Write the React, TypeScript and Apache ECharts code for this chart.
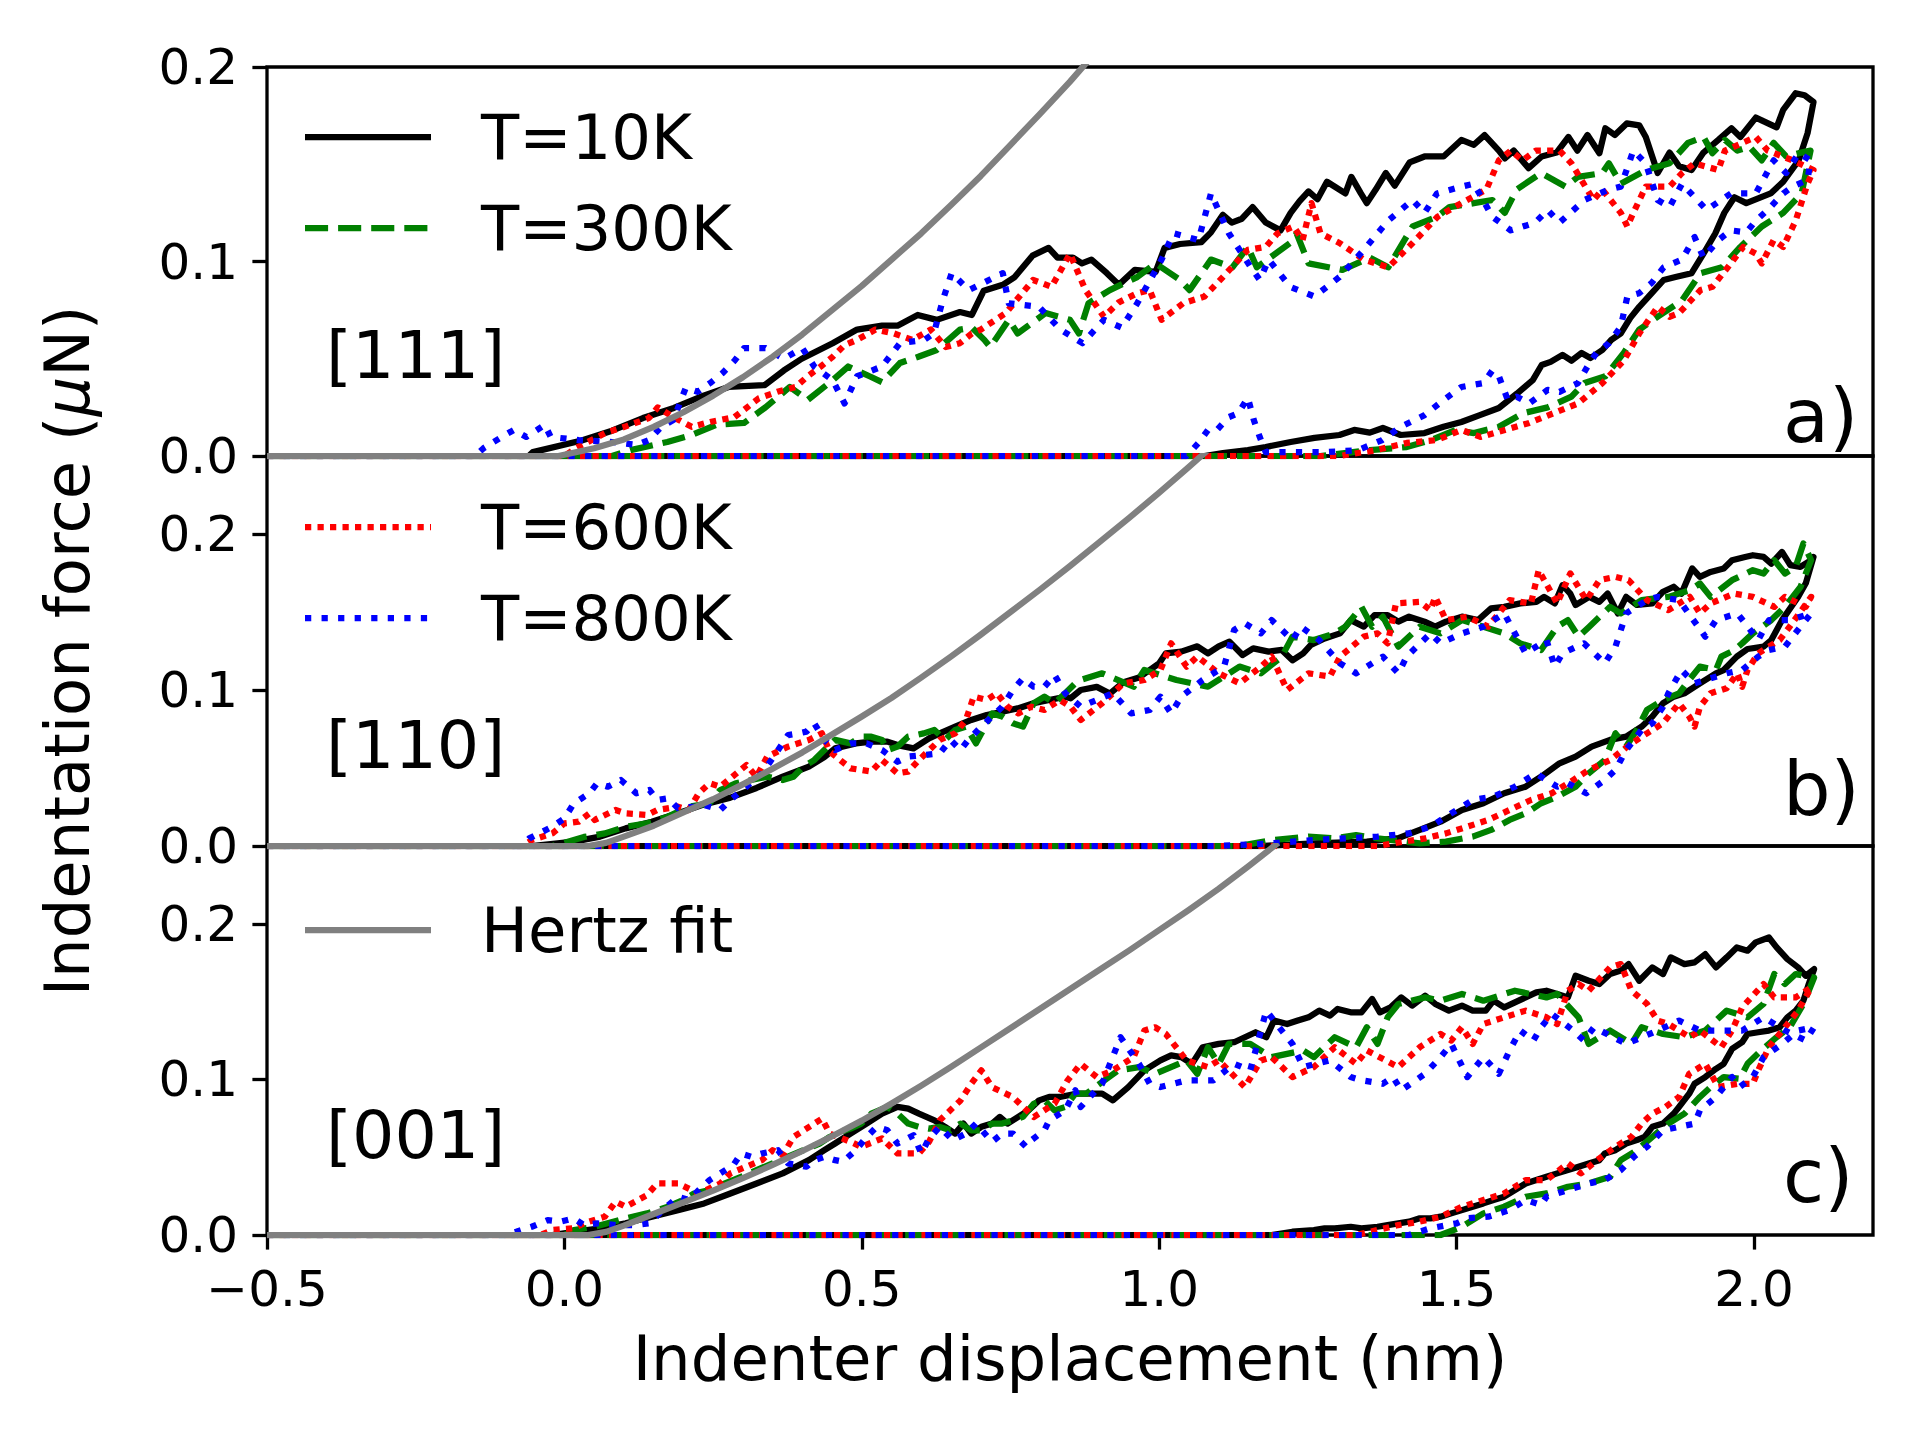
import React, { useEffect, useRef } from "react";
import * as echarts from "echarts";

// ---------- axes / labels ----------
const X_TICKS = [-0.5, 0, 0.5, 1, 1.5, 2];
const Y_TICKS = [0, 0.1, 0.2];
const PANEL_YMAX = [0.2, 0.25, 0.25];
const PANEL_NAMES = ["[111]", "[110]", "[001]"];
const PANEL_LETTERS = ["a)", "b)", "c)"];
const TEMPS = ["T=10K", "T=300K", "T=600K", "T=800K"];
const HERTZ_NAME = "Hertz fit";

// ---------- panel a) [111] ----------
const A_10K_LOAD = [[-0.5,0],[-0.06,0],[-0.053,0.002],[0.029,0.008],[0.08,0.013],[0.132,0.0195],[0.184,0.0247],[0.234,0.031],[0.276,0.0355],[0.337,0.0365],[0.369,0.044],[0.399,0.05],[0.451,0.058],[0.492,0.065],[0.534,0.067],[0.56,0.067],[0.594,0.0725],[0.626,0.07],[0.665,0.074],[0.685,0.0725],[0.705,0.085],[0.737,0.088],[0.757,0.092],[0.787,0.103],[0.814,0.107],[0.829,0.102],[0.855,0.102],[0.87,0.099],[0.886,0.101],[0.912,0.094],[0.932,0.088],[0.959,0.0957],[0.994,0.0947],[1.009,0.107],[1.035,0.109],[1.071,0.11],[1.087,0.115],[1.107,0.124],[1.122,0.12],[1.139,0.122],[1.157,0.128],[1.179,0.12],[1.204,0.116],[1.221,0.125],[1.236,0.131],[1.251,0.136],[1.266,0.132],[1.282,0.141],[1.313,0.135],[1.323,0.1435],[1.339,0.135],[1.349,0.13],[1.364,0.137],[1.381,0.1455],[1.396,0.139],[1.421,0.151],[1.446,0.154],[1.478,0.154],[1.508,0.1625],[1.529,0.16],[1.547,0.165],[1.571,0.157],[1.581,0.153],[1.596,0.157],[1.621,0.148],[1.643,0.154],[1.668,0.156],[1.688,0.164],[1.703,0.157],[1.72,0.165],[1.74,0.1557],[1.75,0.1685],[1.766,0.165],[1.786,0.171],[1.807,0.17],[1.818,0.164],[1.838,0.1455],[1.858,0.156],[1.874,0.149],[1.895,0.147],[1.915,0.156],[1.94,0.1625],[1.962,0.1685],[1.977,0.164],[2.003,0.174],[2.038,0.169],[2.049,0.178],[2.07,0.1865],[2.085,0.1855],[2.1,0.182]];
const A_10K_UNLOAD = [[2.09,0.166],[2.075,0.152],[2.049,0.141],[2.028,0.135],[2.007,0.1325],[1.987,0.13],[1.967,0.133],[1.95,0.125],[1.935,0.1145],[1.915,0.104],[1.895,0.094],[1.868,0.092],[1.848,0.0905],[1.828,0.0837],[1.807,0.0767],[1.792,0.071],[1.776,0.063],[1.76,0.0597],[1.745,0.0545],[1.725,0.0504],[1.71,0.053],[1.693,0.049],[1.678,0.052],[1.658,0.0484],[1.643,0.0468],[1.628,0.039],[1.601,0.032],[1.571,0.0247],[1.539,0.021],[1.508,0.0175],[1.478,0.015],[1.446,0.0118],[1.406,0.0108],[1.376,0.0144],[1.354,0.012],[1.328,0.0134],[1.303,0.0108],[1.261,0.0093],[1.221,0.0072],[1.179,0.0046],[1.149,0.003],[1.107,0.0015],[1.076,0],[-0.1,0]];
const A_300K_LOAD = [[-0.5,0],[0.08,0],[0.111,0.003],[0.173,0.0072],[0.214,0.0108],[0.255,0.016],[0.302,0.017],[0.338,0.025],[0.379,0.0355],[0.409,0.0288],[0.451,0.039],[0.477,0.046],[0.513,0.041],[0.534,0.038],[0.564,0.0478],[0.595,0.051],[0.626,0.0545],[0.665,0.065],[0.685,0.066],[0.706,0.0597],[0.716,0.056],[0.747,0.07],[0.762,0.063],[0.809,0.0735],[0.85,0.07],[0.865,0.063],[0.881,0.0785],[0.917,0.0853],[0.963,0.092],[0.994,0.099],[1.035,0.0905],[1.051,0.0853],[1.087,0.101],[1.123,0.097],[1.149,0.1075],[1.164,0.097],[1.22,0.1095],[1.231,0.1145],[1.251,0.099],[1.308,0.0957],[1.354,0.102],[1.385,0.097],[1.426,0.118],[1.467,0.123],[1.488,0.128],[1.529,0.13],[1.56,0.1316],[1.581,0.125],[1.601,0.137],[1.642,0.1455],[1.683,0.1385],[1.704,0.1435],[1.745,0.1455],[1.756,0.1505],[1.776,0.14],[1.818,0.147],[1.858,0.1505],[1.889,0.161],[1.915,0.164],[1.93,0.1557],[1.951,0.1625],[1.972,0.157],[1.992,0.159],[2.013,0.152],[2.033,0.161],[2.054,0.154],[2.075,0.1557],[2.095,0.157]];
const A_300K_UNLOAD = [[2.08,0.135],[2.049,0.125],[2.013,0.118],[1.977,0.1075],[1.946,0.097],[1.91,0.094],[1.879,0.08],[1.838,0.0716],[1.807,0.065],[1.781,0.053],[1.75,0.041],[1.715,0.0375],[1.693,0.0305],[1.653,0.025],[1.612,0.022],[1.571,0.015],[1.529,0.0118],[1.498,0.0134],[1.457,0.0082],[1.416,0.0046],[1.354,0.003],[1.271,0],[-0.1,0]];
const A_600K_LOAD = [[-0.5,0],[0.0,0],[0.019,0.004],[0.07,0.012],[0.101,0.015],[0.142,0.0195],[0.157,0.025],[0.183,0.02],[0.214,0.015],[0.245,0.0175],[0.286,0.02],[0.327,0.0297],[0.358,0.033],[0.389,0.0355],[0.409,0.041],[0.431,0.046],[0.451,0.051],[0.471,0.057],[0.492,0.0597],[0.523,0.065],[0.554,0.063],[0.585,0.0597],[0.616,0.065],[0.641,0.056],[0.665,0.058],[0.685,0.063],[0.7,0.065],[0.742,0.0735],[0.788,0.0905],[0.819,0.087],[0.85,0.104],[0.876,0.0853],[0.907,0.0716],[0.932,0.079],[0.963,0.0837],[0.984,0.0853],[1.004,0.07],[1.04,0.0785],[1.076,0.082],[1.107,0.092],[1.149,0.106],[1.179,0.1075],[1.199,0.1145],[1.226,0.118],[1.241,0.111],[1.256,0.13],[1.271,0.1145],[1.303,0.1095],[1.344,0.101],[1.385,0.097],[1.426,0.1095],[1.468,0.123],[1.508,0.13],[1.55,0.137],[1.571,0.152],[1.591,0.157],[1.611,0.152],[1.633,0.157],[1.673,0.157],[1.693,0.1505],[1.73,0.1316],[1.745,0.137],[1.776,0.125],[1.787,0.118],[1.797,0.125],[1.818,0.1385],[1.858,0.1385],[1.879,0.1455],[1.9,0.1505],[1.94,0.147],[1.951,0.157],[2.003,0.164],[2.023,0.157],[2.065,0.152],[2.1,0.147]];
const A_600K_UNLOAD = [[2.09,0.14],[2.07,0.121],[2.049,0.1075],[2.033,0.111],[2.013,0.099],[2.003,0.104],[1.982,0.1075],[1.961,0.099],[1.93,0.087],[1.91,0.0853],[1.874,0.0735],[1.858,0.0716],[1.838,0.0767],[1.807,0.063],[1.781,0.049],[1.745,0.0375],[1.704,0.027],[1.663,0.022],[1.622,0.017],[1.581,0.0134],[1.54,0.0098],[1.508,0.0134],[1.467,0.0082],[1.416,0.0067],[1.364,0.003],[1.303,0],[-0.1,0]];
const A_800K_LOAD = [[-0.5,0],[-0.15,0],[-0.136,0.004],[-0.1,0.0108],[-0.085,0.0134],[-0.064,0.0098],[-0.033,0.016],[-0.023,0.0098],[0.024,0.0082],[0.08,0.0072],[0.122,0.0057],[0.142,0.0082],[0.163,0.015],[0.183,0.0185],[0.204,0.035],[0.224,0.033],[0.245,0.0375],[0.266,0.0427],[0.286,0.049],[0.302,0.0555],[0.338,0.0555],[0.369,0.05],[0.4,0.0555],[0.42,0.046],[0.451,0.039],[0.471,0.027],[0.492,0.041],[0.534,0.046],[0.564,0.058],[0.605,0.0597],[0.621,0.063],[0.636,0.08],[0.651,0.094],[0.68,0.0853],[0.737,0.094],[0.747,0.0785],[0.798,0.0767],[0.834,0.065],[0.871,0.058],[0.907,0.07],[0.937,0.066],[0.963,0.0785],[1.004,0.101],[1.024,0.1145],[1.066,0.111],[1.087,0.135],[1.117,0.1145],[1.154,0.097],[1.169,0.0905],[1.184,0.101],[1.22,0.087],[1.261,0.082],[1.303,0.092],[1.344,0.106],[1.385,0.121],[1.426,0.1316],[1.446,0.125],[1.467,0.135],[1.508,0.1385],[1.529,0.14],[1.56,0.123],[1.591,0.116],[1.632,0.12],[1.653,0.1265],[1.673,0.12],[1.715,0.1316],[1.756,0.137],[1.776,0.1385],[1.797,0.157],[1.818,0.1505],[1.838,0.1316],[1.858,0.128],[1.879,0.14],[1.92,0.1265],[1.961,0.135],[2.003,0.135],[2.033,0.152],[2.054,0.1455],[2.075,0.1557],[2.095,0.152]];
const A_800K_UNLOAD = [[2.09,0.142],[2.065,0.1385],[2.049,0.135],[2.023,0.1265],[2.003,0.121],[1.987,0.115],[1.961,0.116],[1.94,0.111],[1.915,0.102],[1.9,0.1126],[1.879,0.101],[1.848,0.097],[1.828,0.089],[1.807,0.0837],[1.787,0.082],[1.776,0.0665],[1.756,0.058],[1.735,0.053],[1.72,0.046],[1.704,0.0375],[1.673,0.033],[1.653,0.034],[1.622,0.027],[1.601,0.0305],[1.586,0.0288],[1.571,0.041],[1.56,0.044],[1.545,0.0375],[1.508,0.0355],[1.478,0.0288],[1.446,0.021],[1.406,0.015],[1.375,0.0082],[1.334,0.003],[1.282,0.002],[1.179,0.002],[1.169,0.0098],[1.159,0.0185],[1.149,0.03],[1.133,0.022],[1.117,0.02],[1.097,0.0134],[1.082,0.0134],[1.066,0.0067],[1.046,0],[-0.1,0]];
const A_HERTZ = [[-0.5,0],[-0.01,0],[0.05,0.004],[0.1,0.0085],[0.15,0.015],[0.2,0.0225],[0.25,0.031],[0.3,0.0405],[0.35,0.051],[0.4,0.0625],[0.45,0.075],[0.5,0.0875],[0.55,0.101],[0.6,0.1145],[0.65,0.129],[0.7,0.144],[0.75,0.16],[0.8,0.176],[0.85,0.1925],[0.9,0.21],[0.95,0.227]];

// ---------- panel b) [110] ----------
const B_10K_LOAD = [[-0.5,0],[-0.055,0],[0.016,0.0028],[0.06,0.006],[0.103,0.0113],[0.147,0.0156],[0.191,0.021],[0.235,0.0267],[0.279,0.031],[0.323,0.0372],[0.367,0.0444],[0.411,0.0509],[0.437,0.057],[0.455,0.0626],[0.49,0.0658],[0.516,0.0669],[0.543,0.0669],[0.56,0.0647],[0.587,0.0626],[0.613,0.069],[0.631,0.0722],[0.657,0.0765],[0.684,0.0808],[0.71,0.084],[0.736,0.0861],[0.762,0.0882],[0.789,0.0915],[0.815,0.0936],[0.842,0.0957],[0.851,0.0947],[0.868,0.1],[0.895,0.102],[0.917,0.0977],[0.94,0.105],[0.966,0.108],[0.984,0.1128],[1.0,0.1171],[1.011,0.1235],[1.037,0.1246],[1.064,0.128],[1.082,0.1235],[1.1,0.128],[1.118,0.131],[1.14,0.1224],[1.158,0.1267],[1.184,0.1246],[1.206,0.1257],[1.224,0.119],[1.242,0.1235],[1.255,0.1289],[1.278,0.133],[1.304,0.1363],[1.322,0.1448],[1.344,0.1406],[1.362,0.148],[1.384,0.148],[1.402,0.1438],[1.42,0.147],[1.446,0.1438],[1.464,0.1406],[1.482,0.1438],[1.509,0.147],[1.536,0.1448],[1.558,0.1523],[1.58,0.1533],[1.607,0.1555],[1.634,0.1565],[1.647,0.1597],[1.665,0.1555],[1.678,0.1672],[1.691,0.1618],[1.7,0.1545],[1.723,0.1597],[1.74,0.1565],[1.754,0.1618],[1.771,0.1491],[1.785,0.1597],[1.803,0.1545],[1.829,0.1555],[1.847,0.163],[1.865,0.1662],[1.878,0.1618],[1.896,0.1779],[1.909,0.1725],[1.927,0.1757],[1.949,0.1779],[1.963,0.1832],[1.985,0.1853],[1.998,0.1864],[2.016,0.1853],[2.029,0.181],[2.047,0.1885],[2.061,0.18],[2.078,0.1789],[2.096,0.1832],[2.1,0.1853]];
const B_10K_UNLOAD = [[2.087,0.1684],[2.074,0.1596],[2.047,0.1448],[2.029,0.132],[2.016,0.1278],[1.989,0.1263],[1.971,0.1214],[1.949,0.1128],[1.936,0.1107],[1.909,0.1043],[1.883,0.0979],[1.865,0.0957],[1.847,0.0915],[1.829,0.083],[1.811,0.0765],[1.785,0.0701],[1.758,0.068],[1.727,0.0637],[1.7,0.0573],[1.673,0.053],[1.642,0.0444],[1.616,0.038],[1.58,0.0338],[1.545,0.0274],[1.509,0.0231],[1.473,0.0156],[1.438,0.0103],[1.402,0.005],[1.349,0.0028],[1.26,0.0017],[1.171,0],[-0.1,0]];
const B_300K_LOAD = [[-0.5,0],[-0.02,0],[0.0,0.002],[0.033,0.0058],[0.068,0.0081],[0.103,0.0124],[0.139,0.0145],[0.174,0.0188],[0.209,0.0252],[0.244,0.0274],[0.262,0.0359],[0.288,0.0402],[0.314,0.0423],[0.341,0.0444],[0.367,0.0423],[0.385,0.0444],[0.402,0.0509],[0.42,0.0551],[0.437,0.0615],[0.455,0.068],[0.481,0.0658],[0.499,0.0701],[0.516,0.0701],[0.534,0.068],[0.543,0.0615],[0.56,0.0637],[0.578,0.0701],[0.604,0.0722],[0.622,0.0744],[0.64,0.068],[0.657,0.0744],[0.675,0.0765],[0.692,0.0658],[0.701,0.0722],[0.719,0.085],[0.736,0.083],[0.754,0.0787],[0.771,0.0765],[0.789,0.0915],[0.807,0.0957],[0.824,0.0915],[0.842,0.0979],[0.859,0.1043],[0.868,0.1064],[0.904,0.1107],[0.957,0.1021],[0.975,0.1128],[1.029,0.1064],[1.082,0.1021],[1.135,0.115],[1.171,0.1107],[1.206,0.1214],[1.224,0.1342],[1.26,0.132],[1.295,0.1363],[1.313,0.1406],[1.34,0.1533],[1.358,0.1406],[1.376,0.147],[1.402,0.1278],[1.438,0.1406],[1.473,0.1363],[1.509,0.1448],[1.545,0.1406],[1.58,0.1363],[1.607,0.1299],[1.642,0.1256],[1.669,0.1406],[1.687,0.1448],[1.705,0.1342],[1.723,0.1406],[1.758,0.1533],[1.776,0.1491],[1.811,0.1576],[1.856,0.1597],[1.892,0.164],[1.909,0.1683],[1.927,0.1597],[1.963,0.1704],[1.998,0.1768],[2.016,0.1747],[2.034,0.1832],[2.052,0.1747],[2.07,0.1789],[2.083,0.1939],[2.096,0.1832]];
const B_300K_UNLOAD = [[2.078,0.166],[2.052,0.1533],[2.029,0.1448],[1.998,0.1363],[1.98,0.1299],[1.967,0.1256],[1.945,0.1214],[1.936,0.1128],[1.909,0.115],[1.891,0.1064],[1.874,0.0979],[1.847,0.0936],[1.82,0.0872],[1.803,0.0744],[1.785,0.0637],[1.767,0.0722],[1.749,0.0551],[1.722,0.0466],[1.7,0.038],[1.669,0.0316],[1.642,0.0274],[1.616,0.0209],[1.589,0.0167],[1.558,0.0103],[1.527,0.006],[1.482,0.0028],[1.438,0.0017],[1.367,0.0049],[1.331,0.007],[1.295,0.0049],[1.251,0.006],[1.189,0.0038],[1.135,0],[-0.1,0]];
const B_600K_LOAD = [[-0.5,0],[-0.07,0],[-0.055,0.0038],[-0.02,0.0081],[0.0,0.0145],[0.024,0.0156],[0.042,0.0209],[0.051,0.0167],[0.086,0.0231],[0.103,0.0209],[0.139,0.0199],[0.156,0.0231],[0.191,0.0252],[0.209,0.0231],[0.226,0.0338],[0.244,0.0402],[0.262,0.038],[0.306,0.0519],[0.323,0.0444],[0.341,0.0573],[0.376,0.0637],[0.411,0.068],[0.433,0.0722],[0.446,0.0605],[0.481,0.0498],[0.516,0.0477],[0.534,0.0551],[0.56,0.0466],[0.578,0.0477],[0.596,0.0551],[0.631,0.068],[0.657,0.0722],[0.675,0.0808],[0.688,0.0957],[0.71,0.0936],[0.727,0.0979],[0.745,0.0893],[0.763,0.085],[0.785,0.0893],[0.807,0.0872],[0.833,0.0936],[0.851,0.0893],[0.868,0.0808],[0.904,0.0915],[0.94,0.1043],[0.975,0.1064],[1.002,0.1128],[1.02,0.1299],[1.046,0.115],[1.064,0.1214],[1.1,0.1107],[1.135,0.1043],[1.171,0.115],[1.189,0.1214],[1.215,0.1],[1.251,0.1107],[1.287,0.1086],[1.304,0.1214],[1.344,0.1342],[1.367,0.1363],[1.384,0.1299],[1.398,0.1555],[1.438,0.1565],[1.456,0.1512],[1.464,0.1597],[1.482,0.1448],[1.518,0.147],[1.553,0.1406],[1.589,0.1576],[1.625,0.1555],[1.638,0.1768],[1.669,0.1555],[1.691,0.1747],[1.718,0.1576],[1.74,0.1704],[1.767,0.1725],[1.789,0.1704],[1.82,0.1576],[1.856,0.1512],[1.892,0.1597],[1.909,0.1491],[1.927,0.1555],[1.967,0.1618],[1.998,0.1597],[2.034,0.1533],[2.052,0.1597],[2.087,0.1533],[2.096,0.1597]];
const B_600K_UNLOAD = [[2.06,0.1406],[2.043,0.132],[2.025,0.1278],[2.007,0.1235],[1.989,0.1128],[1.98,0.1021],[1.972,0.1107],[1.954,0.1011],[1.927,0.0979],[1.909,0.0893],[1.9,0.0765],[1.891,0.083],[1.874,0.0915],[1.847,0.0787],[1.82,0.0722],[1.794,0.0658],[1.758,0.0551],[1.722,0.0487],[1.696,0.0423],[1.66,0.0338],[1.625,0.0295],[1.589,0.0231],[1.553,0.0167],[1.518,0.0124],[1.482,0.0081],[1.447,0.0049],[1.411,0.0028],[1.367,0],[-0.1,0]];
const B_800K_LOAD = [[-0.5,0],[-0.07,0],[-0.059,0.0049],[-0.02,0.0124],[0.0,0.0177],[0.016,0.0274],[0.029,0.0306],[0.042,0.0338],[0.055,0.0402],[0.073,0.038],[0.095,0.0423],[0.108,0.038],[0.121,0.0338],[0.143,0.0359],[0.156,0.0295],[0.174,0.0306],[0.191,0.0242],[0.218,0.0252],[0.235,0.0263],[0.262,0.0231],[0.279,0.0295],[0.306,0.038],[0.332,0.0466],[0.35,0.0562],[0.376,0.0711],[0.394,0.0722],[0.407,0.0733],[0.42,0.0787],[0.437,0.068],[0.455,0.0615],[0.481,0.0658],[0.508,0.0658],[0.534,0.0615],[0.56,0.054],[0.578,0.0573],[0.604,0.0583],[0.631,0.0594],[0.649,0.068],[0.666,0.0615],[0.679,0.068],[0.701,0.0765],[0.719,0.083],[0.736,0.0893],[0.754,0.1],[0.771,0.1075],[0.789,0.1021],[0.807,0.1021],[0.824,0.1096],[0.842,0.0979],[0.868,0.0893],[0.922,0.0979],[0.953,0.085],[0.984,0.0872],[1.002,0.0957],[1.02,0.085],[1.037,0.0957],[1.073,0.1064],[1.109,0.115],[1.126,0.1385],[1.144,0.1427],[1.171,0.1363],[1.189,0.1448],[1.224,0.132],[1.238,0.1406],[1.269,0.132],[1.304,0.1171],[1.331,0.1107],[1.376,0.1214],[1.402,0.1107],[1.416,0.1214],[1.456,0.1363],[1.473,0.1299],[1.509,0.1363],[1.545,0.1406],[1.58,0.1491],[1.598,0.1363],[1.616,0.1235],[1.651,0.132],[1.665,0.115],[1.678,0.1235],[1.714,0.1299],[1.749,0.1171],[1.767,0.1278],[1.785,0.1491],[1.82,0.1576],[1.838,0.1597],[1.874,0.1576],[1.918,0.1342],[1.936,0.1448],[1.972,0.1491],[2.007,0.132],[2.025,0.1448],[2.06,0.1448],[2.096,0.1491]];
const B_800K_UNLOAD = [[2.078,0.1406],[2.052,0.1278],[2.025,0.1256],[2.007,0.1214],[1.98,0.1128],[1.954,0.1107],[1.918,0.1064],[1.9,0.1043],[1.878,0.1128],[1.856,0.0979],[1.847,0.0893],[1.829,0.0787],[1.811,0.0744],[1.785,0.0615],[1.767,0.0487],[1.749,0.0423],[1.718,0.0338],[1.687,0.0402],[1.669,0.038],[1.633,0.0466],[1.598,0.038],[1.562,0.0316],[1.527,0.0295],[1.491,0.0209],[1.456,0.0124],[1.42,0.0081],[1.367,0.006],[1.313,0.0049],[1.26,0.0038],[1.189,0.0017],[1.1,0],[-0.1,0]];
const B_HERTZ = [[-0.5,0],[0.04,0],[0.07,0.002],[0.1,0.006],[0.15,0.013],[0.2,0.0215],[0.25,0.03],[0.3,0.0395],[0.35,0.0495],[0.4,0.06],[0.45,0.0715],[0.5,0.083],[0.55,0.095],[0.6,0.108],[0.65,0.1215],[0.7,0.1355],[0.75,0.15],[0.8,0.1645],[0.85,0.1795],[0.9,0.195],[0.95,0.2105],[1.0,0.2265],[1.05,0.243],[1.1,0.26]];

// ---------- panel c) [001] ----------
const C_10K_LOAD = [[-0.5,0],[-0.02,0],[0.016,0.0021],[0.06,0.0043],[0.103,0.0075],[0.147,0.0118],[0.191,0.016],[0.235,0.0203],[0.279,0.0267],[0.323,0.0331],[0.367,0.0396],[0.411,0.0481],[0.437,0.0545],[0.455,0.0588],[0.481,0.0652],[0.508,0.0716],[0.534,0.078],[0.56,0.0823],[0.578,0.0812],[0.596,0.078],[0.622,0.0737],[0.64,0.0695],[0.657,0.0652],[0.671,0.0716],[0.684,0.0652],[0.701,0.0695],[0.719,0.0716],[0.732,0.0759],[0.745,0.0716],[0.763,0.0759],[0.78,0.0801],[0.798,0.0865],[0.815,0.0887],[0.833,0.0887],[0.86,0.0908],[0.886,0.0908],[0.904,0.0908],[0.922,0.0865],[0.948,0.095],[0.975,0.1058],[1.002,0.1122],[1.02,0.1154],[1.037,0.1143],[1.055,0.11],[1.073,0.1207],[1.1,0.1228],[1.126,0.1239],[1.144,0.1271],[1.162,0.1303],[1.18,0.1271],[1.193,0.1378],[1.215,0.1356],[1.233,0.1378],[1.251,0.1399],[1.269,0.1442],[1.287,0.141],[1.3,0.1453],[1.322,0.1431],[1.34,0.1431],[1.358,0.1517],[1.371,0.1431],[1.389,0.1463],[1.407,0.1527],[1.425,0.1474],[1.447,0.1538],[1.464,0.1485],[1.487,0.1442],[1.509,0.1474],[1.527,0.1442],[1.549,0.1442],[1.562,0.1506],[1.58,0.1463],[1.598,0.1495],[1.616,0.1527],[1.634,0.1559],[1.651,0.157],[1.669,0.1549],[1.687,0.1527],[1.7,0.1666],[1.722,0.1634],[1.74,0.1613],[1.758,0.1677],[1.776,0.1699],[1.789,0.1741],[1.807,0.1634],[1.829,0.172],[1.847,0.1677],[1.86,0.1784],[1.883,0.1741],[1.9,0.1752],[1.918,0.1805],[1.936,0.172],[1.954,0.1784],[1.971,0.1848],[1.989,0.1827],[2.003,0.1881],[2.025,0.1912],[2.038,0.1848],[2.056,0.1773],[2.074,0.172],[2.087,0.1666],[2.101,0.1709]];
const C_10K_UNLOAD = [[2.092,0.1613],[2.083,0.1506],[2.07,0.1442],[2.056,0.1399],[2.043,0.1335],[2.025,0.1314],[2.007,0.1303],[1.989,0.1292],[1.98,0.1239],[1.963,0.1196],[1.949,0.11],[1.936,0.1068],[1.918,0.1015],[1.9,0.0972],[1.891,0.0908],[1.874,0.0823],[1.865,0.078],[1.847,0.0716],[1.829,0.0695],[1.816,0.0631],[1.803,0.061],[1.785,0.0588],[1.767,0.0545],[1.749,0.0524],[1.74,0.0481],[1.722,0.046],[1.705,0.0439],[1.687,0.0417],[1.669,0.0396],[1.651,0.0374],[1.634,0.0353],[1.616,0.0331],[1.598,0.0289],[1.58,0.0246],[1.562,0.0225],[1.545,0.0203],[1.527,0.0182],[1.509,0.016],[1.491,0.0139],[1.473,0.0118],[1.456,0.0107],[1.438,0.0107],[1.42,0.0086],[1.402,0.0075],[1.384,0.0064],[1.367,0.0053],[1.34,0.0043],[1.322,0.0053],[1.295,0.0043],[1.278,0.0043],[1.26,0.0032],[1.224,0.0021],[1.189,0],[-0.1,0]];
const C_300K_LOAD = [[-0.5,0],[0.0,0],[0.016,0.0032],[0.051,0.0053],[0.103,0.0107],[0.139,0.0139],[0.174,0.0182],[0.2,0.0225],[0.218,0.0267],[0.244,0.0289],[0.27,0.0331],[0.297,0.0374],[0.323,0.0417],[0.35,0.046],[0.376,0.0503],[0.402,0.0545],[0.429,0.0588],[0.446,0.063],[0.464,0.0663],[0.481,0.0684],[0.499,0.0716],[0.516,0.078],[0.543,0.0823],[0.56,0.078],[0.578,0.0716],[0.596,0.0695],[0.613,0.0684],[0.631,0.0695],[0.649,0.0673],[0.666,0.0716],[0.684,0.0673],[0.701,0.0673],[0.719,0.0716],[0.736,0.0716],[0.754,0.0737],[0.771,0.0759],[0.789,0.0844],[0.807,0.0865],[0.824,0.0801],[0.842,0.0823],[0.859,0.0908],[0.877,0.0908],[0.931,0.1058],[0.966,0.1079],[0.993,0.1036],[1.046,0.1122],[1.064,0.1036],[1.082,0.1207],[1.1,0.11],[1.117,0.1228],[1.153,0.1228],[1.189,0.1143],[1.242,0.1186],[1.26,0.1143],[1.295,0.1271],[1.331,0.1207],[1.349,0.1335],[1.367,0.1228],[1.384,0.1399],[1.402,0.1485],[1.447,0.1527],[1.473,0.1506],[1.509,0.1549],[1.545,0.1506],[1.598,0.157],[1.651,0.1527],[1.669,0.1549],[1.705,0.1399],[1.722,0.1228],[1.758,0.1314],[1.794,0.1228],[1.811,0.1335],[1.847,0.1292],[1.883,0.1271],[1.918,0.1314],[1.936,0.1378],[1.954,0.1442],[1.989,0.1399],[2.016,0.1485],[2.034,0.1677],[2.052,0.1613],[2.07,0.1677],[2.101,0.1655]];
const C_300K_UNLOAD = [[2.083,0.1485],[2.06,0.1335],[2.038,0.1271],[2.012,0.1186],[1.989,0.11],[1.976,0.1004],[1.949,0.1015],[1.927,0.0951],[1.909,0.0887],[1.883,0.078],[1.856,0.0716],[1.829,0.0631],[1.803,0.0545],[1.776,0.0481],[1.758,0.0374],[1.722,0.0331],[1.687,0.031],[1.651,0.0267],[1.616,0.0246],[1.58,0.0182],[1.545,0.0139],[1.509,0.0053],[1.473,0],[-0.1,0]];
const C_600K_LOAD = [[-0.5,0],[-0.04,0],[-0.02,0.0032],[0.016,0.0043],[0.033,0.0075],[0.068,0.0118],[0.086,0.0214],[0.103,0.0182],[0.139,0.0257],[0.156,0.0331],[0.191,0.0331],[0.226,0.0267],[0.262,0.0331],[0.279,0.0396],[0.332,0.0481],[0.35,0.0545],[0.367,0.0513],[0.385,0.063],[0.42,0.0716],[0.433,0.0748],[0.446,0.0652],[0.481,0.0599],[0.499,0.0567],[0.534,0.062],[0.56,0.0524],[0.596,0.0524],[0.613,0.0599],[0.631,0.0737],[0.666,0.0865],[0.684,0.0972],[0.701,0.1058],[0.719,0.095],[0.754,0.0887],[0.789,0.0758],[0.824,0.0844],[0.846,0.0994],[0.868,0.11],[0.895,0.1015],[0.922,0.1058],[0.957,0.1143],[0.975,0.1314],[0.993,0.1335],[1.011,0.1292],[1.046,0.1122],[1.082,0.1079],[1.1,0.1122],[1.144,0.0951],[1.171,0.1122],[1.189,0.1143],[1.224,0.1015],[1.26,0.1079],[1.295,0.1207],[1.331,0.11],[1.349,0.1186],[1.402,0.1079],[1.438,0.1207],[1.473,0.1292],[1.491,0.125],[1.509,0.1335],[1.527,0.1228],[1.545,0.1356],[1.58,0.1399],[1.616,0.1442],[1.651,0.1399],[1.669,0.1356],[1.687,0.157],[1.705,0.1613],[1.722,0.157],[1.758,0.172],[1.776,0.1741],[1.794,0.157],[1.82,0.1485],[1.838,0.1378],[1.856,0.1356],[1.892,0.1271],[1.909,0.1314],[1.945,0.1207],[1.963,0.1314],[1.98,0.1463],[2.016,0.1613],[2.034,0.1527],[2.07,0.1527],[2.096,0.1591]];
const C_600K_UNLOAD = [[2.074,0.1442],[2.052,0.1335],[2.025,0.1207],[2.007,0.1058],[1.998,0.0972],[1.972,0.0972],[1.94,0.0951],[1.918,0.11],[1.891,0.1036],[1.874,0.0887],[1.851,0.0823],[1.829,0.078],[1.811,0.0716],[1.794,0.0631],[1.767,0.0567],[1.736,0.0481],[1.709,0.0396],[1.687,0.046],[1.651,0.0353],[1.616,0.0353],[1.58,0.0267],[1.545,0.0225],[1.509,0.0182],[1.473,0.0118],[1.438,0.0086],[1.402,0.0064],[1.367,0.0032],[1.331,0],[-0.1,0]];
const C_800K_LOAD = [[-0.5,0],[-0.1,0],[-0.081,0.0021],[-0.055,0.0053],[-0.028,0.0096],[-0.006,0.0086],[0.016,0.0107],[0.033,0.0064],[0.055,0.0075],[0.086,0.0064],[0.121,0.0064],[0.143,0.0075],[0.165,0.016],[0.191,0.0246],[0.209,0.0225],[0.226,0.0289],[0.244,0.0353],[0.262,0.0396],[0.284,0.0449],[0.297,0.0524],[0.314,0.0503],[0.332,0.0524],[0.359,0.0545],[0.376,0.046],[0.407,0.0439],[0.42,0.0481],[0.437,0.0503],[0.455,0.0481],[0.468,0.0471],[0.49,0.0545],[0.508,0.063],[0.525,0.0695],[0.543,0.0673],[0.56,0.0588],[0.587,0.0641],[0.6,0.0524],[0.613,0.062],[0.631,0.0695],[0.653,0.0609],[0.675,0.0652],[0.692,0.0716],[0.719,0.0599],[0.736,0.0652],[0.754,0.0652],[0.776,0.0567],[0.785,0.0609],[0.807,0.0673],[0.815,0.0737],[0.842,0.0801],[0.859,0.093],[0.868,0.0823],[0.904,0.0972],[0.935,0.1271],[0.966,0.11],[0.984,0.0972],[1.002,0.0951],[1.046,0.0994],[1.091,0.0994],[1.126,0.11],[1.153,0.1058],[1.18,0.1442],[1.206,0.1314],[1.224,0.1228],[1.242,0.1079],[1.287,0.1122],[1.322,0.1015],[1.34,0.0994],[1.376,0.0972],[1.393,0.1015],[1.407,0.093],[1.447,0.1036],[1.473,0.1143],[1.491,0.1228],[1.518,0.1015],[1.545,0.1143],[1.571,0.1036],[1.589,0.1186],[1.607,0.1314],[1.629,0.125],[1.642,0.1335],[1.66,0.142],[1.696,0.1314],[1.714,0.125],[1.731,0.1335],[1.785,0.1228],[1.838,0.1314],[1.874,0.1378],[1.909,0.1314],[1.945,0.1314],[1.98,0.1314],[2.016,0.1399],[2.052,0.1314],[2.087,0.125],[2.101,0.1335]];
const C_800K_UNLOAD = [[2.074,0.1314],[2.047,0.1228],[2.016,0.1143],[1.998,0.1015],[1.976,0.0951],[1.963,0.1015],[1.936,0.0887],[1.909,0.0801],[1.9,0.0716],[1.874,0.0695],[1.847,0.0673],[1.82,0.0567],[1.798,0.0503],[1.776,0.0417],[1.749,0.0353],[1.722,0.0331],[1.687,0.0289],[1.651,0.0246],[1.642,0.0193],[1.616,0.0225],[1.589,0.016],[1.553,0.0118],[1.518,0.0107],[1.5,0.0075],[1.456,0.0043],[1.42,0],[-0.1,0]];
const C_HERTZ = [[-0.5,0],[0.04,0],[0.07,0.002],[0.1,0.006],[0.15,0.0135],[0.2,0.021],[0.25,0.0285],[0.3,0.0365],[0.35,0.045],[0.4,0.054],[0.45,0.0635],[0.5,0.0735],[0.55,0.0845],[0.6,0.096],[0.65,0.108],[0.7,0.1205],[0.75,0.133],[0.8,0.1455],[0.85,0.158],[0.9,0.1705],[0.95,0.183],[1.0,0.196],[1.05,0.209],[1.1,0.2225],[1.15,0.237],[1.2,0.252]];

// ---------- styles ----------
const FONT = "DejaVu Sans";
const LW = 6.25;
const STYLES = [
  { color: "#000000", dash: "solid" as any },
  { color: "#008000", dash: [23.1, 10] },
  { color: "#ff0000", dash: [6.25, 6.25] },
  { color: "#0000ff", dash: [6.25, 10.3] },
];
const HERTZ_COLOR = "#808080";

const PANELS = [
  { curves: [[A_10K_LOAD, A_10K_UNLOAD], [A_300K_LOAD, A_300K_UNLOAD], [A_600K_LOAD, A_600K_UNLOAD], [A_800K_LOAD, A_800K_UNLOAD]], hertz: A_HERTZ },
  { curves: [[B_10K_LOAD, B_10K_UNLOAD], [B_300K_LOAD, B_300K_UNLOAD], [B_600K_LOAD, B_600K_UNLOAD], [B_800K_LOAD, B_800K_UNLOAD]], hertz: B_HERTZ },
  { curves: [[C_10K_LOAD, C_10K_UNLOAD], [C_300K_LOAD, C_300K_UNLOAD], [C_600K_LOAD, C_600K_UNLOAD], [C_800K_LOAD, C_800K_UNLOAD]], hertz: C_HERTZ },
];

// layout (px)
const PLOT_LEFT = 267;
const PLOT_RIGHT = 1873;
const PANEL_TOPS = [67, 456, 846];
const PANEL_BOTTOMS = [456, 846, 1235];

const fmtX = (v: number) => (v < 0 ? "\u2212" + Math.abs(v).toFixed(1) : v.toFixed(1));
const fmtY = (v: number) => v.toFixed(1);

function buildOption() {
  const grid = PANEL_TOPS.map((t, i) => ({
    left: PLOT_LEFT,
    width: PLOT_RIGHT - PLOT_LEFT,
    top: t,
    height: PANEL_BOTTOMS[i] - t,
    show: true,
    borderColor: "#000",
    borderWidth: 3.3,
    backgroundColor: "transparent",
    containLabel: false,
  }));

  const xAxis = PANEL_TOPS.map((_, i) => ({
    type: "value",
    gridIndex: i,
    position: "bottom",
    min: -0.5,
    max: 2.2,
    interval: 0.5,
    axisLine: { show: false, onZero: false },
    splitLine: { show: false },
    axisTick: {
      show: i === 2,
      length: 14.6,
      inside: false,
      customValues: X_TICKS,
      lineStyle: { color: "#000", width: 3.3 },
    },
    axisLabel: {
      show: i === 2,
      customValues: X_TICKS,
      formatter: fmtX,
      fontSize: 50,
      fontFamily: FONT,
      color: "#000",
      margin: 29,
    },
  }));

  const yAxis = PANEL_TOPS.map((_, i) => ({
    type: "value",
    gridIndex: i,
    position: "left",
    min: 0,
    max: PANEL_YMAX[i],
    interval: 0.1,
    axisLine: { show: false, onZero: false },
    splitLine: { show: false },
    axisTick: {
      show: true,
      length: 14.6,
      inside: false,
      customValues: Y_TICKS,
      lineStyle: { color: "#000", width: 3.3 },
    },
    axisLabel: {
      customValues: Y_TICKS,
      formatter: fmtY,
      fontSize: 50,
      fontFamily: FONT,
      color: "#000",
      margin: 29,
    },
  }));

  const series: any[] = [];
  PANELS.forEach((p, i) => {
    p.curves.forEach((c, k) => {
      series.push({
        type: "line",
        name: TEMPS[k],
        xAxisIndex: i,
        yAxisIndex: i,
        data: (c[0] as number[][]).concat(c[1] as number[][]),
        showSymbol: false,
        symbol: "none",
        silent: true,
        clip: true,
        lineStyle: { color: STYLES[k].color, width: LW, type: STYLES[k].dash, cap: "butt", join: "round" },
      });
    });
    series.push({
      type: "line",
      name: HERTZ_NAME,
      xAxisIndex: i,
      yAxisIndex: i,
      data: p.hertz,
      showSymbol: false,
      symbol: "none",
      silent: true,
      clip: true,
      lineStyle: { color: HERTZ_COLOR, width: LW, type: "solid", cap: "butt", join: "round" },
    });
  });

  const graphic: any[] = [];
  const legendRows = [
    [{ y: 137, k: 0 }, { y: 228, k: 1 }],
    [{ y: 527, k: 2 }, { y: 618, k: 3 }],
    [{ y: 930, k: -1 }],
  ];
  legendRows.forEach((rows) =>
    rows.forEach((r) => {
      const color = r.k >= 0 ? STYLES[r.k].color : HERTZ_COLOR;
      const dash = r.k >= 0 && Array.isArray(STYLES[r.k].dash) ? STYLES[r.k].dash : null;
      graphic.push({
        type: "line",
        silent: true,
        shape: { x1: 305, y1: r.y, x2: 431, y2: r.y },
        style: { stroke: color, lineWidth: LW, lineDash: dash, lineCap: "butt" },
      });
      graphic.push({
        type: "text",
        silent: true,
        x: 481,
        y: r.y,
        style: {
          text: r.k >= 0 ? TEMPS[r.k] : HERTZ_NAME,
          fontSize: 62.5,
          fontFamily: FONT,
          fill: "#000",
          align: "left",
          verticalAlign: "middle",
        },
      });
    })
  );

  const nameY = [355, 745, 1135];
  const letterY = [416, 789, 1176];
  PANEL_NAMES.forEach((n, i) => {
    graphic.push({
      type: "text",
      silent: true,
      x: 326,
      y: nameY[i],
      style: { text: n, fontSize: 66.7, fontFamily: FONT, fill: "#000", align: "left", verticalAlign: "middle" },
    });
    graphic.push({
      type: "text",
      silent: true,
      x: 1783,
      y: letterY[i],
      style: { text: PANEL_LETTERS[i], fontSize: 75, fontFamily: FONT, fill: "#000", align: "left", verticalAlign: "middle" },
    });
  });

  graphic.push({
    type: "text",
    silent: true,
    x: (PLOT_LEFT + PLOT_RIGHT) / 2,
    y: 1358,
    style: {
      text: "Indenter displacement (nm)",
      fontSize: 62.5,
      fontFamily: FONT,
      fill: "#000",
      align: "center",
      verticalAlign: "middle",
    },
  });
  graphic.push({
    type: "text",
    silent: true,
    x: 67,
    y: (PANEL_TOPS[0] + PANEL_BOTTOMS[2]) / 2,
    rotation: Math.PI / 2,
    style: {
      text: "Indentation force ({i|\u03bc}N)",
      fontSize: 62.5,
      fontFamily: FONT,
      fill: "#000",
      align: "center",
      verticalAlign: "middle",
      rich: { i: { fontStyle: "italic", fontSize: 62.5, fontFamily: FONT, fill: "#000" } },
    },
  });

  return {
    animation: false,
    backgroundColor: "#ffffff",
    grid,
    xAxis,
    yAxis,
    series,
    graphic,
  };
}

export default function App() {
  const ref = useRef<HTMLDivElement>(null);
  useEffect(() => {
    document.body.style.margin = "0";
    if (!ref.current) return;
    const chart = echarts.init(ref.current, undefined, { renderer: "svg" });
    chart.setOption(buildOption() as any);
    return () => chart.dispose();
  }, []);
  return <div ref={ref} style={{ width: 1920, height: 1440 }} />;
}
